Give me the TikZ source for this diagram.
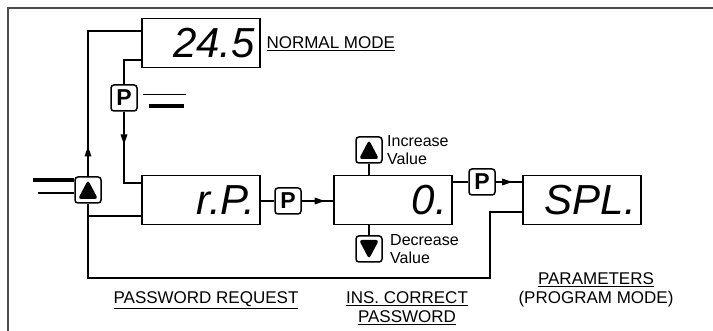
\documentclass[tikz,border=0pt]{standalone}
\usepackage{fontspec}
\setmainfont{Liberation Sans}
\usepackage{tikz}
\usetikzlibrary{arrows.meta,calc,decorations.markings}

\tikzset{
  wire/.style={line width=1.5pt},
  display/.style={draw, line width=1.6pt, minimum width=118pt, minimum height=49pt,
    inner xsep=5pt, text width=108pt, align=right,
    font=\fontsize{42}{42}\selectfont\itshape},
  key/.style={draw, rounded corners=3pt, line width=1.5pt, minimum size=26pt, inner sep=0pt},
  pkey/.style={key, font=\fontsize{23}{23}\selectfont\bfseries},
  upkey/.style={key, path picture={\fill ([shift={(3pt,4pt)}]path picture bounding box.south west)
    -- ([shift={(-3pt,4pt)}]path picture bounding box.south east)
    -- ([yshift=-3pt]path picture bounding box.north) -- cycle;}},
  downkey/.style={key, path picture={\fill ([shift={(3pt,-4pt)}]path picture bounding box.north west)
    -- ([shift={(-3pt,-4pt)}]path picture bounding box.north east)
    -- ([yshift=3pt]path picture bounding box.south) -- cycle;}},
  midarrow/.style={postaction={decorate}, decoration={markings,
    mark=at position #1 with {\fill (-10pt,-3.5pt) -- (0pt,0pt) -- (-10pt,3.5pt) -- cycle;}}},
  label/.style={font=\fontsize{17}{19}\selectfont},
  hint/.style={font=\fontsize{16}{18}\selectfont, align=left, anchor=west, inner sep=0pt},
}

\begin{document}
\begin{tikzpicture}[x=1pt,y=-1pt]
\useasboundingbox (0,0) rectangle (713,331);
% frame
\draw[line width=1.2pt, black!70] (8,331) -- (8,8) -- (713,8);

% Normal mode
\node[display] (normal) at (201,43) {24.5};
\node[label, anchor=west] at (263,44) {\underline{NORMAL MODE}};
\node[pkey] (p1) at (124,98) {P};
\draw[wire] ($(p1.east)+(5,-3.5)$) -- ++(43,0);
\draw[line width=4pt] ($(p1.east)+(11,8.5)$) -- ++(35,0);
\node[upkey] (up1) at (88,190) {};
\draw[line width=4pt] (33,180) -- (up1.west |- 0,180);
\draw[wire] (38,193) -- (up1.west |- 0,193);

% Password request
\node[display] (rp) at (201,200) {r.P.};
\node[pkey] (p2) at (288,201) {P};

% Insert password
\node[display] (zero) at (393,200) {0.};
\node[upkey] (up2) at (369,150) {};
\node[downkey] (down2) at (369,249) {};
\node[hint] at (387,150) {Increase\\Value};
\node[hint] at (390,249) {Decrease\\Value};
\node[pkey] (p3) at (482,182) {P};

% Parameters
\node[display] (spl) at (582,200) {SPL.};

% connections
\draw[wire, midarrow=0.15] (up1.north) |- (normal.west |- 0,31);
\draw[wire] (normal.west |- 0,60) -| (p1.north);
\draw[wire, midarrow=0.37] (p1.south) |- (rp.west |- 0,183);
\draw[wire] (up1.south) |- (rp.west |- 0,216);
\draw[wire] (up1.south) |- (490,278) |- (spl.west |- 0,212);
\draw[wire] (rp.east |- p2) -- (p2.west);
\draw[wire, midarrow=0.73] (p2.east) -- (zero.west |- p2);
\draw[wire] (up2.south) -- (up2.south |- zero.north);
\draw[wire] (down2.north) -- (down2.north |- zero.south);
\draw[wire] (zero.east |- p3) -- (p3.west);
\draw[wire, midarrow=0.62] (p3.east) -- (spl.west |- p3);

% captions
\node[label] at (206,300) {\underline{PASSWORD REQUEST}};
\node[label, align=center] at (407,308) {\underline{INS. CORRECT}\\\underline{PASSWORD}};
\node[label, align=center] at (596,290) {\underline{PARAMETERS}\\(PROGRAM MODE)};
\end{tikzpicture}
\end{document}
